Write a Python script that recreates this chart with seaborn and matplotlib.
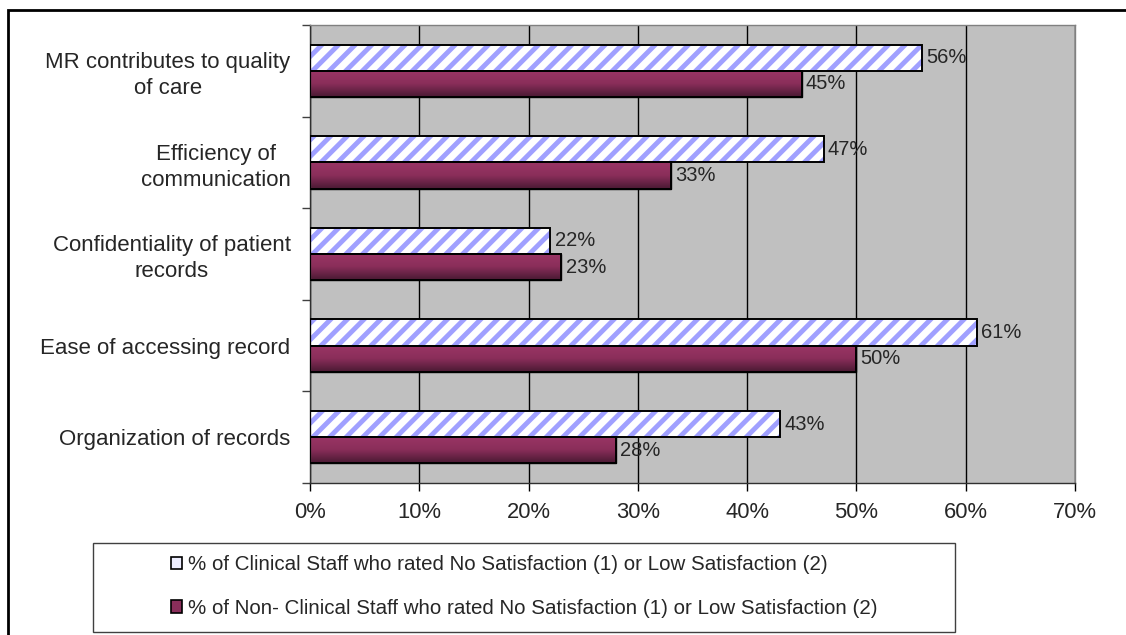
import numpy as np
import pandas as pd
import matplotlib
matplotlib.use("Agg")
import matplotlib.pyplot as plt
import seaborn as sns
from matplotlib.patches import Patch, Rectangle
from matplotlib.ticker import FixedLocator, PercentFormatter

# data
categories = [
    "MR contributes to quality\nof care",
    "Efficiency of\ncommunication",
    "Confidentiality of patient\nrecords",
    "Ease of accessing record",
    "Organization of records",
]
clinical = [56, 47, 22, 61, 43]
non_clinical = [45, 33, 23, 50, 28]
groups = [
    "% of Clinical Staff who rated No Satisfaction (1) or Low Satisfaction (2)",
    "% of Non- Clinical Staff who rated No Satisfaction (1) or Low Satisfaction (2)",
]

df = pd.DataFrame({
    "category": categories * 2,
    "value": clinical + non_clinical,
    "group": [groups[0]] * len(categories) + [groups[1]] * len(categories),
})

sns.set_style("white")
plt.rcParams["font.family"] = ["Liberation Sans", "DejaVu Sans"]
plt.rcParams["hatch.linewidth"] = 3.5
plt.rcParams["hatch.color"] = "#a0a0ff"

hatch_blue = "#a0a0ff"
maroon = "#8a2e5a"

fig = plt.figure(figsize=(11.26, 6.35), dpi=100)
ax = fig.add_axes([310 / 1126, 1 - 483 / 635, 765 / 1126, 458 / 635])
ax.set_facecolor("#c0c0c0")

sns.barplot(data=df, x="value", y="category", hue="group", orient="h",
            palette=["white", maroon], width=0.57, edgecolor="black",
            linewidth=1, legend=False, ax=ax, zorder=2)

# hatched clinical bars: blue hatch, black outline drawn on top
for p in ax.containers[0]:
    p.set_hatch("//")
    p.set_edgecolor(hatch_blue)
    p.set_linewidth(0)
    ax.add_patch(Rectangle(p.get_xy(), p.get_width(), p.get_height(),
                           fill=False, edgecolor="black", lw=1.4, zorder=3))

# vertical gradient on the non-clinical bars
grad = np.linspace(0, 1, 64).reshape(-1, 1)
cmap = matplotlib.colors.LinearSegmentedColormap.from_list(
    "mr", ["#9a3565", "#8a2e5a", "#4a1a33"])
for p in ax.containers[1]:
    x0, y0 = p.get_xy()
    im = ax.imshow(grad, cmap=cmap, aspect="auto", zorder=2.5,
                   extent=(x0, x0 + p.get_width(), y0 + p.get_height(), y0))
    im.set_clip_path(p)
    ax.add_patch(Rectangle(p.get_xy(), p.get_width(), p.get_height(),
                           fill=False, edgecolor="black", lw=1.4, zorder=3))

for cont, vals in zip(ax.containers, [clinical, non_clinical]):
    ax.bar_label(cont, labels=[f"{v}%" for v in vals], padding=3, fontsize=14.5)

ax.set_xlim(0, 70)
ax.set_ylim(len(categories) - 0.5, -0.5)
ax.set_xticks(range(0, 71, 10))
ax.xaxis.set_major_formatter(PercentFormatter(decimals=0))
ax.grid(axis="x", color="black", lw=1, zorder=0)
ax.set_axisbelow(True)
ax.set_xlabel("")
ax.set_ylabel("")

ax.tick_params(axis="x", direction="out", length=6, width=1, color="black",
               labelsize=15.8, pad=8, bottom=True)
ax.tick_params(axis="y", which="major", length=0, labelsize=16, pad=14)
ax.yaxis.set_minor_locator(FixedLocator(np.arange(-0.5, len(categories), 1)))
ax.tick_params(axis="y", which="minor", direction="out", length=6, width=1,
               color="#404040", left=True)
for lab in ax.get_yticklabels():
    lab.set_multialignment("center")
    lab.set_linespacing(1.3)

for side in ["top", "right"]:
    ax.spines[side].set_color("#808080")
for side in ["left", "bottom"]:
    ax.spines[side].set_color("#303030")
for s in ax.spines.values():
    s.set_linewidth(1)
    s.set_visible(True)

# legend: entries without frame, box drawn separately
handles = [
    Patch(facecolor="#eeeeff", edgecolor="black", lw=1.2),
    Patch(facecolor=maroon, edgecolor="black", lw=1.2),
]
leg = fig.legend(handles, groups, loc="upper left",
                 bbox_to_anchor=(171 / 1126, 1 - 555 / 635),
                 frameon=False, borderaxespad=0, borderpad=0,
                 prop={"size": 14.8}, handlelength=0.55, handleheight=0.55,
                 handletextpad=0.3, labelspacing=1.2)
fig.patches.append(Rectangle((93 / 1126, 3 / 635), 862 / 1126, 89 / 635,
                             transform=fig.transFigure, fill=False,
                             edgecolor="#404040", lw=1))

# outer chart border (right and bottom edges fall outside the image)
fig.patches.append(Rectangle((8 / 1126, -0.05), 1.0, 1 - 10 / 635 + 0.05,
                             transform=fig.transFigure, fill=False,
                             edgecolor="black", lw=2))

fig.savefig("out.png", dpi=100)
